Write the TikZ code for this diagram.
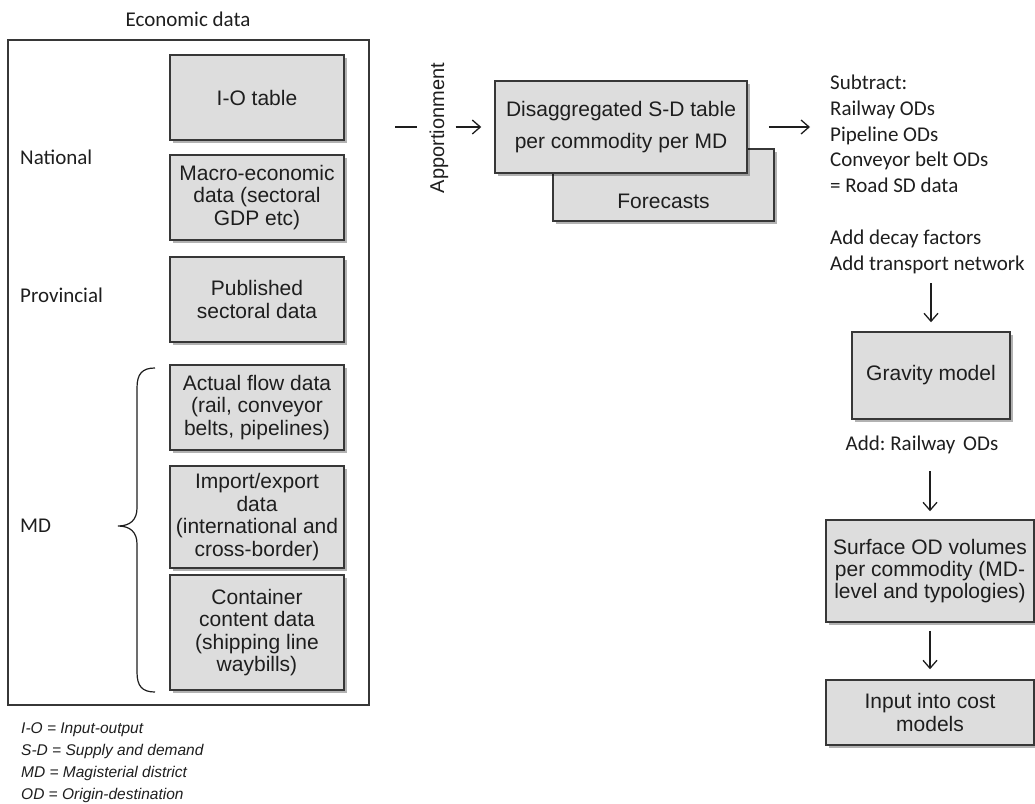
\documentclass[tikz,border=0pt]{standalone}
\usepackage{fontspec}
\setmainfont{Liberation Sans}
\newfontfamily\carlito{Carlito}
\usetikzlibrary{arrows,arrows.meta,shadows}
\definecolor{boxfill}{RGB}{221,221,221}
\definecolor{boxline}{RGB}{55,55,55}
\definecolor{ink}{RGB}{30,30,30}
\newcommand{\bxfont}{\fontsize{21}{22.5}\selectfont}
\newcommand{\notefont}{\carlito\fontsize{21}{25.7}\selectfont}
\tikzstyle{databox}=[draw=boxline, fill=boxfill, line width=1.5pt, text=ink
,align=center, inner sep=1pt, font=\bxfont
,drop shadow={shadow xshift=2.5pt, shadow yshift=-2.5pt, fill=black, opacity=0.3}
]
\tikzstyle{note}=[align=left, inner sep=4pt, text=ink, font=\notefont]
\tikzstyle{link}=[draw=ink, line width=1.3pt]
\tikzstyle{flow}=[link, -{Straight Barb[length=8pt,width=14pt]}]

\begin{document}
\begin{tikzpicture}[x=1pt, y=-1pt]
    \useasboundingbox (0,0) rectangle (1035,803);
    % Economic data frame with its source boxes
    \node[font=\notefont, text=ink] (title) at (188,19) {Economic data};
    \node[draw=boxline, line width=1.5pt, minimum width=361pt, minimum height=665pt, inner sep=0pt] (econ) at (188.5,372.5) {};
    \foreach \name/\ypos/\hgt/\txt in {iotab/97.5/85/{I-O table},
        macro/197.5/85/{Macro-economic\\data (sectoral\\GDP etc)},
        publ/299.5/85/{Published\\sectoral data},
        flowdat/407.5/85/{Actual flow data\\(rail, conveyor\\belts, pipelines)},
        impexp/517/102/{Import/export\\data\\(international and\\cross-border)},
        contnr/632.5/115/{Container\\content data\\(shipping line\\waybills)}}
        \node[databox, minimum width=174pt, minimum height=\hgt pt] (\name) at (257,\ypos) {\txt};
    % Levels
    \node[note, anchor=west] (national) at (16,157) {National};
    \node[note, anchor=west] (provincial) at (16,295) {Provincial};
    \node[note, anchor=west] (mdlevel) at (16,526) {MD};
    \draw[link, line width=1.2pt] (155,368) .. controls (142,368) and (137,374) .. (137,388) -- (137,508)
        .. controls (137,520) and (130,526) .. (118,526) .. controls (130,526) and (137,532) .. (137,544)
        -- (137,672) .. controls (137,686) and (142,692) .. (155,692);
    % Abbreviations
    \node[anchor=west, align=left, inner sep=2pt, text=ink, font=\fontsize{15.5}{22}\selectfont\itshape] (legend) at (19,763)
        {I-O = Input-output\\S-D = Supply and demand\\MD = Magisterial district\\OD = Origin-destination};
    % Apportionment step
    \node[rotate=90, inner sep=7pt, text=ink, font=\fontsize{20}{24}\selectfont] (appor) at (439,128) {Apportionment};
    \coordinate (dashstart) at (395,127);
    \draw[link, shorten >=5pt] (dashstart) -- (appor.north |- dashstart);
    \node[databox, minimum width=221pt, inner ysep=3pt, text height=56pt, text depth=10pt] (forecast) at (663.5,185) {Forecasts};
    \node[databox, minimum width=252pt, minimum height=92pt, font=\fontsize{21}{32}\selectfont] (disagg) at (621,127)
        {Disaggregated S-D table\\per commodity per MD};
    \draw[flow, shorten >=13pt] (appor.south |- disagg.west) -- (disagg.west);
    % Road freight chain
    \node[note, anchor=west] (subtr) at (826,134) {Subtract:\\Railway ODs\\Pipeline ODs\\Conveyor belt ODs\\= Road SD data};
    \draw[flow, shorten <=21pt, shorten >=16pt] (disagg.east) -- (disagg.east -| subtr.west);
    \node[note, anchor=west] (decay) at (826,252) {Add decay factors\\Add transport network};
    \node[databox, minimum width=158pt, minimum height=87pt] (gravity) at (931,375.5) {Gravity model};
    \draw[flow, shorten <=5pt, shorten >=9pt] (gravity.north |- decay.south) -- (gravity.north);
    \node[note, align=center] (addrail) at (922,445) {Add:\ Railway\hspace{0.15em} ODs};
    \node[databox, minimum width=208pt, minimum height=102pt, font=\fontsize{21}{21.7}\selectfont] (surface) at (930,571)
        {Surface OD volumes\\per commodity (MD-\\level and typologies)};
    \draw[flow, shorten <=13pt, shorten >=8pt] (addrail.south -| surface.north) -- (surface.north);
    \node[databox, minimum width=208pt, minimum height=65pt, font=\fontsize{21}{23}\selectfont] (inputs) at (930,712.5)
        {Input into cost\\models};
    \draw[flow, shorten <=8pt, shorten >=10pt] (surface.south) -- (inputs.north);
\end{tikzpicture}
\end{document}
